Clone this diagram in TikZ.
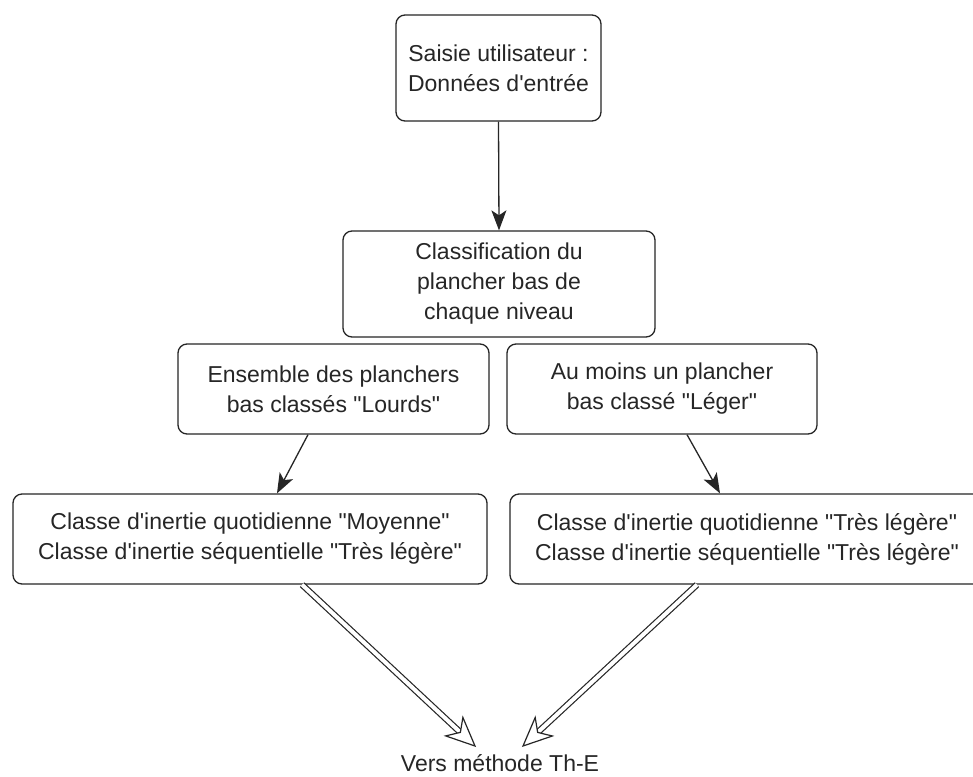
\documentclass[tikz,border=0pt]{standalone}
\usepackage{fontspec}
\setmainfont{Liberation Sans}
\usetikzlibrary{arrows.meta,calc}
\newcommand{\qq}{\textquotedbl}
\newcommand{\ap}{\textquotesingle}
\tikzset{
  box/.style={draw=black!85, line width=1.3pt, rounded corners=9pt, fill=white,
    align=center, inner sep=0pt, font=\fontsize{23}{30}\selectfont, text=black!85},
  arr/.style={draw=black!85, line width=1.3pt, -{Stealth[length=20pt, width=15pt, inset=5pt]}},
  dblshaft/.style={draw=black!85, line width=1.2pt, double=white, double distance=4pt, shorten >=18pt},
  openhead/.style={draw=black!85, line width=1.2pt, fill=white, line join=miter},
  lbl/.style={inner sep=0pt, font=\fontsize{23}{30}\selectfont, text=black!85}
}
\begin{document}
\begin{tikzpicture}[x=1pt, y=-1pt]
\useasboundingbox (0,0) rectangle (973,776);
\fill[white] (0,0) rectangle (973,776);
\begin{scope}
\clip (0,0) rectangle (973,776);
\node[box, minimum width=205pt, minimum height=106pt] (saisie) at (498.5,68)
  {Saisie utilisateur :\\Données d\ap entrée};
\node[box, minimum width=312pt, minimum height=106pt] (classif) at (499,284)
  {Classification du\\plancher bas de\\chaque niveau};
\node[box, minimum width=311pt, minimum height=90pt] (lourds) at (333.5,389)
  {Ensemble des planchers\\bas classés \qq Lourds\qq};
\node[box, minimum width=310pt, minimum height=90pt] (leger) at (662,389)
  {Au moins un plancher\\bas classé \qq Léger\qq};
\node[box, minimum width=474pt, minimum height=90pt] (moy) at (250,539)
  {Classe d\ap inertie quotidienne \qq Moyenne\qq\\Classe d\ap inertie séquentielle \qq Très légère\qq};
\node[box, minimum width=474pt, minimum height=90pt] (tleg) at (747,539)
  {Classe d\ap inertie quotidienne \qq Très légère\qq\\Classe d\ap inertie séquentielle \qq Très légère\qq};
\node[lbl] (vers) at (500,763) {Vers méthode Th-E};
\coordinate (tipL) at (475,746);
\coordinate (tipR) at (523,746);
\coordinate (startL) at ([xshift=52pt]moy.south);
\coordinate (startR) at ([xshift=-50pt]tleg.south);

\draw[arr] (saisie.south) -- (classif.north);
\draw[arr] ([xshift=-25.5pt]lourds.south) -- ([xshift=27pt]moy.north);
\draw[arr] ([xshift=25pt]leger.south) -- ([xshift=-27pt]tleg.north);

\draw[dblshaft] (startL) -- (tipL);
\draw[openhead] (tipL) -- ($(tipL)!31pt!24:(startL)$) -- ($(tipL)!20pt!(startL)$)
  -- ($(tipL)!31pt!-24:(startL)$) -- cycle;
\draw[dblshaft] (startR) -- (tipR);
\draw[openhead] (tipR) -- ($(tipR)!31pt!24:(startR)$) -- ($(tipR)!20pt!(startR)$)
  -- ($(tipR)!31pt!-24:(startR)$) -- cycle;
\end{scope}
\end{tikzpicture}
\end{document}
